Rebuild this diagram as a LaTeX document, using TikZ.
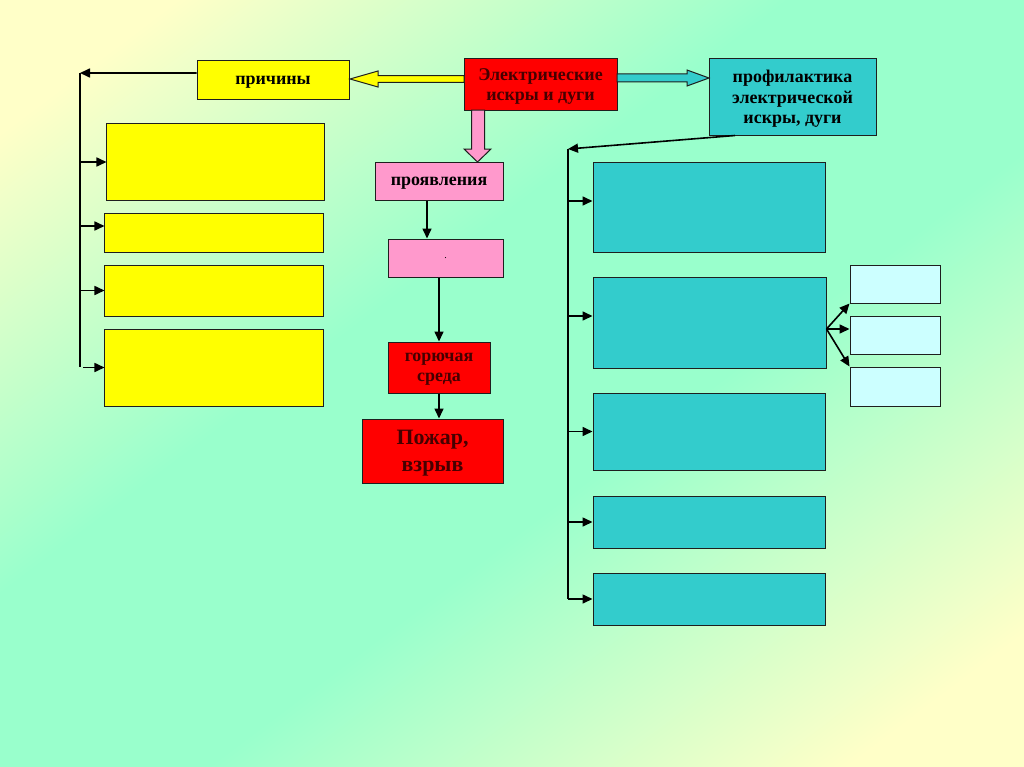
\documentclass[tikz,border=0pt]{standalone}
\usepackage{fontspec}
\setmainfont{Liberation Serif}
\usetikzlibrary{arrows.meta,calc}
\definecolor{bgY}{RGB}{255,255,200}
\definecolor{bgG}{RGB}{153,255,204}
\definecolor{ylw}{RGB}{255,255,0}
\definecolor{rd}{RGB}{255,0,0}
\definecolor{pnk}{RGB}{255,153,204}
\definecolor{tealbox}{RGB}{51,204,204}
\definecolor{lcyan}{RGB}{204,255,255}
\definecolor{txtred}{RGB}{70,0,0}
\definecolor{edge}{RGB}{30,30,30}
\pgfdeclareverticalshading{bgshade}{100bp}{color(0bp)=(bgY); color(21bp)=(bgY); color(43bp)=(bgG); color(58bp)=(bgG); color(79bp)=(bgY); color(100bp)=(bgY)}
\begin{document}
\begin{tikzpicture}[x=1bp,y=-1bp,
  box/.style={draw=edge, line width=1bp, inner sep=0pt, align=center, text depth=0pt,
    font=\bfseries\fontsize{18}{20.5}\selectfont},
  arr/.style={draw=black, line width=1.6bp, -{Triangle[length=10bp,width=9bp]}},
  ln/.style={draw=black, line width=1.6bp},
  blockarrow/.style={draw=edge, line width=1bp}]
\useasboundingbox (0,0) rectangle (1024,767);
\shade[shading=bgshade, shading angle=37] (0bp,0bp) rectangle (1024bp,-767bp);

% top row
\node[box,fill=ylw,minimum width=152bp,minimum height=38bp] (prich) at (273,80) {причины};
\node[box,fill=rd,text=txtred,minimum width=153bp,minimum height=51bp] (elec) at (540.5,84.5) {Электрические\\искры и дуги};
\node[box,fill=tealbox,minimum width=167bp,minimum height=76bp] (prof) at (792.5,97) {профилактика\\электрической\\искры, дуги};

% block arrows
\draw[blockarrow,fill=ylw] (464,75.7) -- (378,75.7) -- (378,71) -- (350,79) -- (378,87) -- (378,82.3) -- (464,82.3) -- cycle;
\draw[blockarrow,fill=tealbox] (617,74) -- (687,74) -- (687,70) -- (709,78) -- (687,86) -- (687,82) -- (617,82) -- cycle;
\draw[blockarrow,fill=pnk] (471.5,110) -- (471.5,149) -- (464,149) -- (477.5,162) -- (491,149) -- (484.5,149) -- (484.5,110) -- cycle;

% left column
\node[box,fill=ylw,minimum width=217bp,minimum height=76bp] (Y1) at (215.5,162) {};
\node[box,fill=ylw,minimum width=218bp,minimum height=39bp] (Y2) at (214,232.5) {};
\node[box,fill=ylw,minimum width=218bp,minimum height=51bp] (Y3) at (214,290.5) {};
\node[box,fill=ylw,minimum width=218bp,minimum height=77bp] (Y4) at (214,367.5) {};

\coordinate (LT) at (80,73);
\coordinate (LB) at (80,367);
\draw[arr] ([yshift=7bp]prich.west) -- (LT);
\draw[ln] (LT) -- (LB);
\coordinate (y2a) at ([yshift=6.5bp]Y2.west);
\draw[arr] (LT |- Y1.west) -- (Y1.west);
\draw[arr] (LT |- y2a) -- (y2a);
\draw[arr] (LT |- Y3.west) -- (Y3.west);
\draw[arr] ([xshift=3bp]LT |- Y4.west) -- (Y4.west);

% middle column
\node[box,fill=pnk,minimum width=128bp,minimum height=38bp] (proyav) at (439,181) {проявления};
\node[box,fill=pnk,minimum width=115bp,minimum height=38bp,font=\fontsize{10}{12}\selectfont] (P2) at (445.5,258) {.};
\node[box,fill=rd,text=txtred,minimum width=102bp,minimum height=51bp] (gor) at (439,367.5) {горючая\\среда};
\node[box,fill=rd,text=txtred,minimum width=141bp,minimum height=64bp,font=\bfseries\fontsize{22}{27}\selectfont] (fire) at (432.5,451) {Пожар,\\взрыв};

\coordinate (pa) at ([xshift=-12bp]proyav.south);
\draw[arr] (pa) -- (pa |- P2.north);
\coordinate (pb) at ([xshift=-6.5bp]P2.south);
\draw[arr] (pb) -- (pb |- gor.north);
\draw[arr] (gor.south) -- (gor.south |- fire.north);

% right column
\node[box,fill=tealbox,minimum width=232bp,minimum height=90bp] (T1) at (709,207) {};
\node[box,fill=tealbox,minimum width=233bp,minimum height=91bp] (T2) at (709.5,322.5) {};
\node[box,fill=tealbox,minimum width=232bp,minimum height=77bp] (T3) at (709,431.5) {};
\node[box,fill=tealbox,minimum width=232bp,minimum height=52bp] (T4) at (709,522) {};
\node[box,fill=tealbox,minimum width=232bp,minimum height=52bp] (T5) at (709,599) {};

\node[box,fill=lcyan,minimum width=90bp,minimum height=38bp] (C1) at (895,284) {};
\node[box,fill=lcyan,minimum width=90bp,minimum height=38bp] (C2) at (895,335) {};
\node[box,fill=lcyan,minimum width=90bp,minimum height=39bp] (C3) at (895,386.5) {};

\coordinate (RT) at (568,149);
\draw[arr] ([xshift=-57.5bp]prof.south) -- (RT);
\draw[ln] (RT) -- (RT |- T5.west);
\coordinate (t1a) at ([yshift=6bp]T1.west);
\coordinate (t2a) at ([yshift=6.5bp]T2.west);
\draw[arr] (RT |- t1a) -- (t1a);
\draw[arr] (RT |- t2a) -- (t2a);
\draw[arr] (RT |- T3.west) -- (T3.west);
\draw[arr] (RT |- T4.west) -- (T4.west);
\draw[arr] (RT |- T5.west) -- (T5.west);

\coordinate (t2e) at ([yshift=-6.5bp]T2.east);
\coordinate (c2a) at ([yshift=6bp]C2.west);
\draw[arr] (t2e) -- (C1.south west);
\draw[arr] (t2e) -- (c2a);
\draw[arr] (t2e) -- (C3.north west);
\end{tikzpicture}
\end{document}
